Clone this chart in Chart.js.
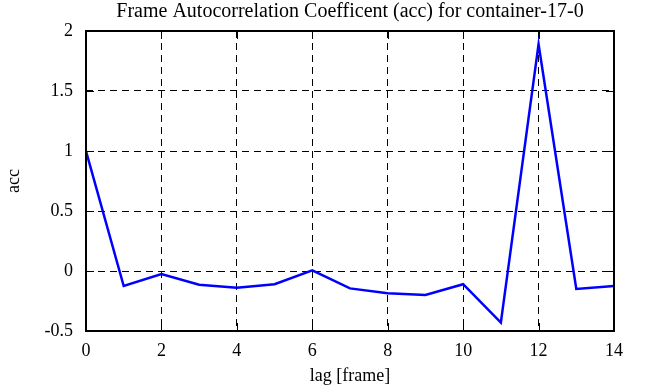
<!DOCTYPE html>
<html>
<head>
<meta charset="utf-8">
<script src="https://cdn.jsdelivr.net/npm/chart.js@4/dist/chart.umd.min.js"></script>
<style>
  html, body { margin: 0; padding: 0; background: #fff; }
  #wrap { width: 646px; height: 387px; }
</style>
</head>
<body>
<div id="wrap"><canvas id="accChart"></canvas></div>
<script>
const lags = [0, 1, 2, 3, 4, 5, 6, 7, 8, 9, 10, 11, 12, 13, 14];
const accValues = [1.0, -0.125, -0.025, -0.115, -0.14, -0.11, 0.005, -0.145, -0.185, -0.2, -0.11, -0.43, 1.89, -0.15, -0.125];
const xTicks = [0, 2, 4, 6, 8, 10, 12, 14];
const yTicks = [-0.5, 0, 0.5, 1, 1.5, 2];
const titleText = 'Frame Autocorrelation Coefficent (acc) for container-17-0';

const serif = 'Liberation Serif';

// frame box + small inward tick marks + title centred over the plot
const frame = {
  id: 'frame',
  afterDraw(chart) {
    const { ctx, chartArea: a, scales } = chart;
    ctx.save();
    ctx.strokeStyle = '#000';
    ctx.lineWidth = 1;
    ctx.setLineDash([]);
    xTicks.forEach(v => {
      const px = Math.round(scales.x.getPixelForValue(v)) + 0.5;
      ctx.beginPath();
      ctx.moveTo(px, a.bottom); ctx.lineTo(px, a.bottom - 8);
      ctx.moveTo(px, a.top); ctx.lineTo(px, a.top + 8);
      ctx.stroke();
    });
    yTicks.forEach(v => {
      const py = Math.round(scales.y.getPixelForValue(v)) + 0.5;
      ctx.beginPath();
      ctx.moveTo(a.left, py); ctx.lineTo(a.left + 8, py);
      ctx.moveTo(a.right, py); ctx.lineTo(a.right - 8, py);
      ctx.stroke();
    });
    ctx.lineWidth = 2;
    ctx.strokeRect(a.left, a.top, a.right - a.left, a.bottom - a.top);

    ctx.fillStyle = '#000';
    ctx.font = '20px "' + serif + '"';
    ctx.textAlign = 'center';
    ctx.textBaseline = 'middle';
    ctx.fillText(titleText, (a.left + a.right) / 2, 12);
    ctx.restore();
  }
};

new Chart(document.getElementById('accChart'), {
  type: 'line',
  data: {
    datasets: [{
      data: lags.map((x, i) => ({ x: x, y: accValues[i] })),
      borderColor: '#0000ff',
      borderWidth: 2.5,
      pointRadius: 0,
      tension: 0,
      fill: false
    }]
  },
  options: {
    responsive: true,
    maintainAspectRatio: false,
    animation: false,
    layout: { padding: { left: 3, right: 32, top: 31, bottom: 0 } },
    plugins: {
      legend: { display: false },
      tooltip: { enabled: false },
      title: { display: false }
    },
    scales: {
      x: {
        type: 'linear',
        min: 0,
        max: 14,
        afterBuildTicks: s => { s.ticks = xTicks.map(v => ({ value: v })); },
        afterFit: s => { s.height = 56; },
        grid: {
          color: '#000',
          lineWidth: 1,
          drawTicks: false
        },
        border: { display: false, dash: [7, 5] },
        ticks: {
          color: '#000',
          font: { family: serif, size: 18 },
          padding: 9,
          maxRotation: 0
        },
        title: {
          display: true,
          text: 'lag [frame]',
          color: '#000',
          font: { family: serif, size: 18 },
          padding: { top: 0, bottom: 0 }
        }
      },
      y: {
        min: -0.5,
        max: 2,
        afterBuildTicks: s => { s.ticks = yTicks.map(v => ({ value: v })); },
        afterFit: s => { s.width = 83; },
        grid: {
          color: '#000',
          lineWidth: 1,
          drawTicks: false
        },
        border: { display: false, dash: [7, 5] },
        ticks: {
          color: '#000',
          font: { family: serif, size: 18 },
          padding: 13,
          callback: v => String(v)
        },
        title: {
          display: true,
          text: 'acc',
          color: '#000',
          font: { family: serif, size: 18 },
          padding: { top: 0, bottom: 0 }
        }
      }
    }
  },
  plugins: [frame]
});
</script>
</body>
</html>
